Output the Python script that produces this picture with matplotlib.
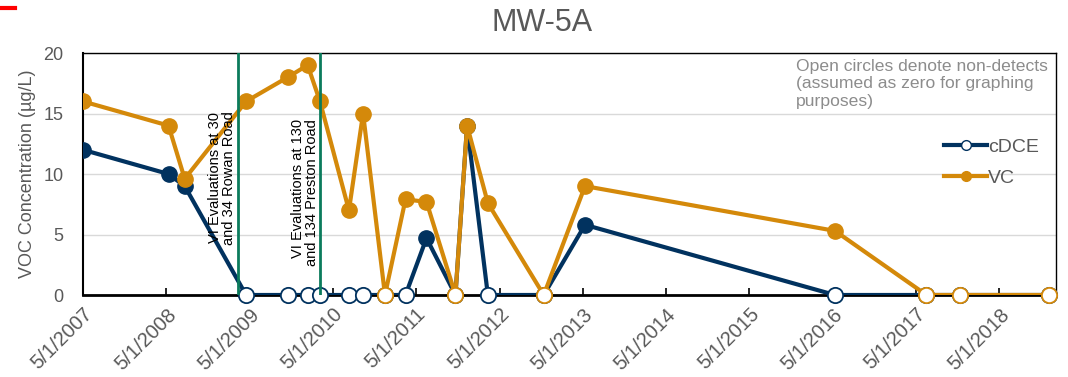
import datetime as dt
import matplotlib.pyplot as plt
import matplotlib.dates as mdates
from matplotlib.lines import Line2D

plt.rcParams['font.family'] = ['Liberation Sans', 'DejaVu Sans']

# sample dates and concentrations (ug/L); detect flag 0 = non-detect (plotted as 0)
dates = ['2007-05-01', '2008-05-10', '2008-07-20', '2009-04-15', '2009-10-15',
         '2010-01-10', '2010-03-05', '2010-07-10', '2010-09-10', '2010-12-15',
         '2011-03-15', '2011-06-15', '2011-10-20', '2011-12-10', '2012-03-10',
         '2012-11-10', '2013-05-10', '2016-05-10', '2017-06-15', '2017-11-10',
         '2018-12-05']
cdce = [12, 10, 9, 0, 0, 0, 0, 0, 0, 0, 0, 4.7, 0, 14, 0, 0, 5.8, 0, 0, 0, 0]
cdce_det = [1, 1, 1, 0, 0, 0, 0, 0, 0, 0, 0, 1, 0, 1, 0, 0, 1, 0, 0, 0, 0]
vc = [16, 14, 9.6, 16, 18, 19, 16, 7, 15, 0, 7.9, 7.7, 0, 14, 7.6, 0, 9, 5.3, 0, 0, 0]
vc_det = [1, 1, 1, 1, 1, 1, 1, 1, 1, 0, 1, 1, 0, 1, 1, 0, 1, 1, 0, 0, 0]

vi_dates = ['2009-03-10', '2010-03-05']
vi_labels = ['VI Evaluations at 30\nand 34 Rowan Road',
             'VI Evaluations at 130\nand 134 Preston Road']
vi_text_y = [4.1, 2.4]

tick_years = list(range(2007, 2019))

blue = '#01325f'
orange = '#d4890a'
green = '#0b7b5c'
grey = '#595959'

x = [dt.datetime.strptime(d, '%Y-%m-%d') for d in dates]

fig = plt.figure(figsize=(10.68, 3.77), dpi=100)
ax = fig.add_axes([0.0777, 0.2175, 0.9113, 0.6419])

for vals, det, col, z in [(cdce, cdce_det, blue, 3), (vc, vc_det, orange, 4)]:
    ax.plot(x, vals, color=col, linewidth=3, zorder=z)
    xf = [xi for xi, d in zip(x, det) if d]
    yf = [v for v, d in zip(vals, det) if d]
    xo = [xi for xi, d in zip(x, det) if not d]
    yo = [v for v, d in zip(vals, det) if not d]
    ax.plot(xf, yf, 'o', color=col, markersize=11, zorder=z + 0.1)
    ax.plot(xo, yo, 'o', markerfacecolor='white', markeredgecolor=col,
            markeredgewidth=1.3, markersize=11, zorder=z + 0.1, clip_on=False)

for d, lab, ty in zip(vi_dates, vi_labels, vi_text_y):
    xd = dt.datetime.strptime(d, '%Y-%m-%d')
    ax.axvline(xd, color=green, linewidth=2, zorder=5)
    ax.text(xd - dt.timedelta(days=6), ty, lab, rotation=90, ha='right', va='bottom',
            fontsize=10.5, color='black', linespacing=1.0, zorder=6)

ax.set_ylim(0, 20)
ax.set_yticks([0, 5, 10, 15, 20])
ax.set_xlim(dt.datetime(2007, 5, 1), dt.datetime(2019, 1, 5))
ax.set_xticks([dt.datetime(y, 5, 1) for y in tick_years])
ax.xaxis.set_major_formatter(mdates.DateFormatter('%-m/%-d/%Y'))
ax.grid(axis='y', color='#d9d9d9', linewidth=1)
ax.set_axisbelow(True)
ax.tick_params(axis='y', length=0, labelsize=13, labelcolor=grey, pad=14)
ax.tick_params(axis='x', direction='in', length=5, width=1.2, labelsize=14.5,
               labelcolor=grey, pad=7)
plt.setp(ax.get_xticklabels(), rotation=45, ha='right', rotation_mode='anchor')
for s in ax.spines.values():
    s.set_linewidth(1)
ax.spines['bottom'].set_linewidth(2)
ax.spines['left'].set_linewidth(1.5)

ax.set_ylabel('VOC Concentration (\u00b5g/L)', fontsize=13, color=grey, labelpad=5)
fig.text(0.508, 0.94, 'MW-5A', fontsize=22, color=grey, ha='center', va='center')
ax.text(0.733, 0.975, 'Open circles denote non-detects\n(assumed as zero for graphing\npurposes)',
        transform=ax.transAxes, fontsize=12.6, color='#8c8c8c', va='top', ha='left',
        linespacing=1.2)

handles = [Line2D([], [], color=blue, linewidth=3, marker='o', markersize=7,
                  markerfacecolor='white', markeredgecolor=blue),
           Line2D([], [], color=orange, linewidth=3, marker='o', markersize=7)]
ax.legend(handles, ['cDCE', 'VC'], loc='upper right', bbox_to_anchor=(1.0, 0.72),
          frameon=False, fontsize=14, handlelength=2.2, handletextpad=0.05,
          labelspacing=0.7, labelcolor=grey)

fig.add_artist(Line2D([0, 0.014], [0.978, 0.978], color='red', linewidth=3))

fig.savefig('out.png', dpi=100)
